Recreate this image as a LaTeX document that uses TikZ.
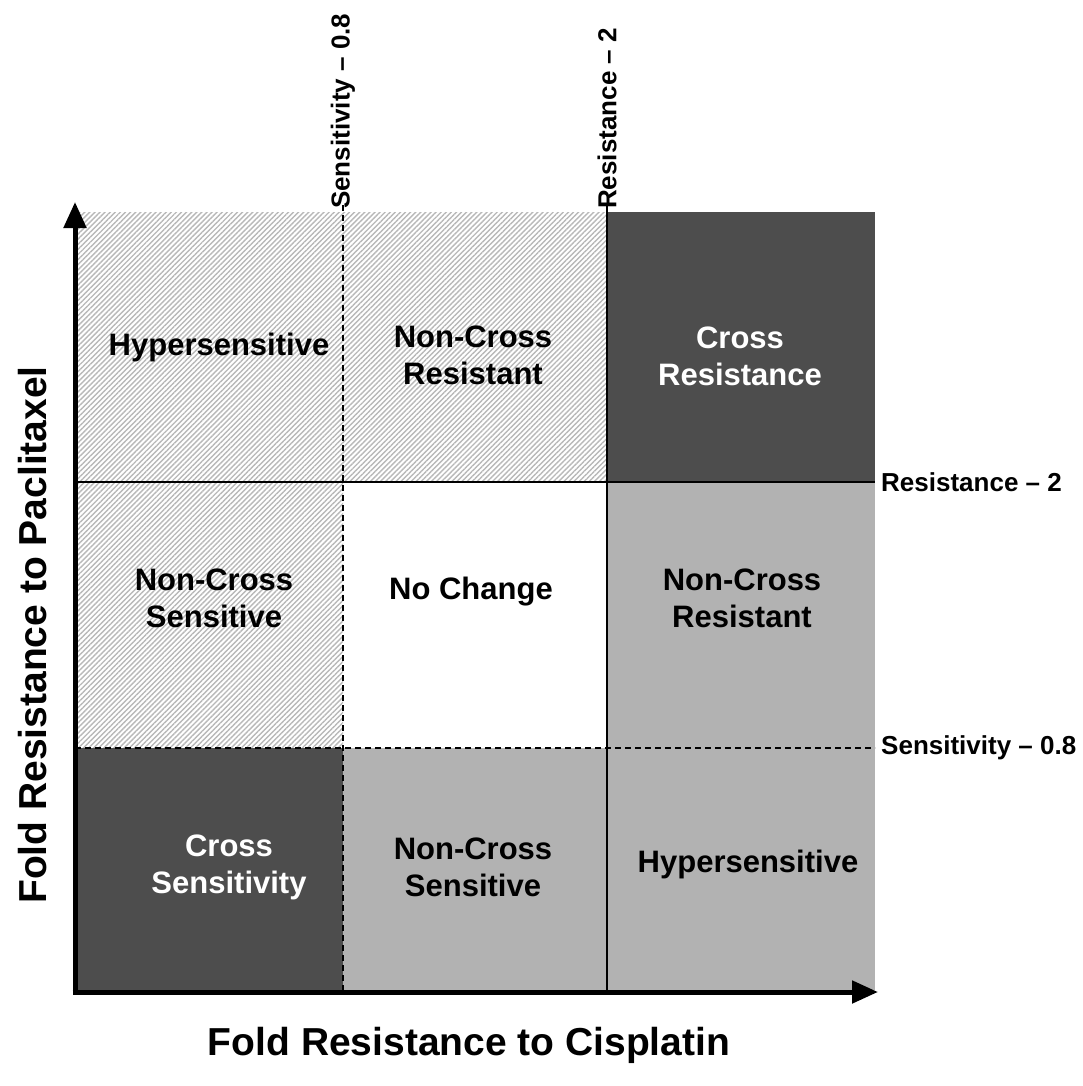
\documentclass[tikz,border=0pt]{standalone}
\usepackage{fontspec}
\setmainfont{Liberation Sans}
\usetikzlibrary{arrows.meta,patterns.meta}
\definecolor{darkcell}{HTML}{4D4D4D}
\definecolor{lightcell}{HTML}{B2B2B2}
\tikzset{
  hatched/.style={pattern={Lines[angle=45,distance=3.6pt,line width=1.4pt]},pattern color=black!28},
  celltext/.style={align=center,font=\bfseries\fontsize{31}{37}\selectfont},
  cutlabel/.style={inner sep=0pt,font=\bfseries\fontsize{26}{30}\selectfont},
  axistitle/.style={font=\bfseries\fontsize{39}{44}\selectfont},
  axisline/.style={line width=5pt,-{Triangle[length=26pt,width=22pt]}},
  cutdash/.style={line width=1.4pt,dash pattern=on 6pt off 4pt}
}
\begin{document}
\begin{tikzpicture}[x=1pt,y=-1pt]
\useasboundingbox (0,0) rectangle (1083,1086);
% cells
\fill[hatched] (75,212) rectangle (607,482);
\fill[hatched] (75,482) rectangle (343,748);
\fill[darkcell] (607,212) rectangle (875,482);
\fill[lightcell] (607,482) rectangle (875,990);
\fill[lightcell] (343,748) rectangle (607,990);
\fill[darkcell] (75,748) rectangle (343,990);
% cut-off lines
\coordinate (sv top) at (343,205);
\coordinate (sv) at (343,990);
\coordinate (rv top) at (607,205);
\coordinate (rv) at (607,990);
\coordinate (rh) at (75,482);
\coordinate (rh end) at (875,482);
\coordinate (sh) at (75,748);
\coordinate (sh end) at (875,748);
\node[cutlabel,rotate=90,anchor=west] (sens top) at (343,209) {Sensitivity -- 0.8};
\node[cutlabel,rotate=90,anchor=west] (res top) at (607,209) {Resistance -- 2};
\node[cutlabel,anchor=west] (res right) at (881,482) {Resistance -- 2};
\node[cutlabel,anchor=west] (sens right) at (881,748) {Sensitivity -- 0.8};
\draw[cutdash] (sv top) -- (sv);
\draw[line width=1.4pt] (rv top) -- (rv);
\draw[line width=1.4pt] (rh) -- (rh end);
\draw[cutdash] (sh) -- (sh end);
% labels
\node[celltext] (hyper1) at (219,347) {Hypersensitive};
\node[celltext] (ncr1) at (473,355) {Non-Cross\\Resistant};
\node[celltext,text=white] (cr) at (740,356) {Cross\\Resistance};
\node[celltext] (ncs1) at (214,598) {Non-Cross\\Sensitive};
\node[celltext] (nochange) at (471,592) {No Change};
\node[celltext] (ncr2) at (742,598) {Non-Cross\\Resistant};
\node[celltext,text=white] (cs) at (229,867) {Cross\\Sensitivity};
\node[celltext] (ncs2) at (473,867) {Non-Cross\\Sensitive};
\node[celltext] (hyper2) at (748,864) {Hypersensitive};
% axes
\coordinate (origin) at (75,992);
\coordinate (xtip) at (878,992);
\coordinate (ytip) at (75,202);
\draw[axisline] ([xshift=-2.5pt]origin) -- (xtip);
\draw[axisline] ([yshift=2.5pt]origin) -- (ytip);
\node[axistitle] (xtitle) at (469,1045) {Fold Resistance to Cisplatin};
\node[axistitle,rotate=90] (ytitle) at (33,635) {Fold Resistance to Paclitaxel};
\end{tikzpicture}
\end{document}
